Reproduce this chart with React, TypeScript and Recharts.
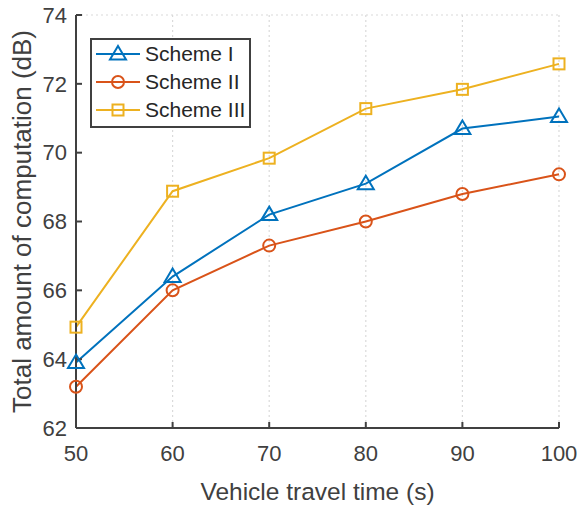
import { LineChart, Line, XAxis, YAxis, CartesianGrid } from "recharts";

const times = [50, 60, 70, 80, 90, 100];
const scheme1 = [63.9, 66.4, 68.2, 69.1, 70.7, 71.05];
const scheme2 = [63.2, 66.0, 67.3, 68.0, 68.8, 69.37];
const scheme3 = [64.93, 68.88, 69.84, 71.28, 71.84, 72.58];
const yTicks = [62, 64, 66, 68, 70, 72, 74];

const data = times.map((t, i) => ({ t, s1: scheme1[i], s2: scheme2[i], s3: scheme3[i] }));

const BLUE = "#0072BD";
const ORANGE = "#D95319";
const YELLOW = "#EDB120";
const AXIS = "#404040";
const FONT = "'Liberation Sans', Arial, sans-serif";

const Tri = ({ cx, cy, color }: any) => (
  <path d={`M${cx},${cy - 8} L${cx + 8},${cy + 5.5} L${cx - 8},${cy + 5.5} Z`} fill="none" stroke={color} strokeWidth={2} />
);
const Circ = ({ cx, cy, color }: any) => <circle cx={cx} cy={cy} r={6} fill="none" stroke={color} strokeWidth={2} />;
const Sq = ({ cx, cy, color }: any) => (
  <rect x={cx - 5.5} y={cy - 5.5} width={11} height={11} fill="none" stroke={color} strokeWidth={2} />
);

const legendItems = [
  { name: "Scheme I", color: BLUE, M: Tri },
  { name: "Scheme II", color: ORANGE, M: Circ },
  { name: "Scheme III", color: YELLOW, M: Sq },
];

const LegendBox = () => (
  <div
    style={{
      position: "absolute",
      left: 90,
      top: 38,
      border: `2px solid ${AXIS}`,
      background: "#fff",
      width: 157,
      height: 86,
      boxSizing: "content-box",
      fontFamily: FONT,
      fontSize: 21,
      color: "#262626",
    }}
  >
    {legendItems.map(({ name, color, M }) => (
      <div key={name} style={{ display: "flex", alignItems: "center", height: 28, whiteSpace: "nowrap" }}>
        <svg width={44} height={24} style={{ marginLeft: 4, flexShrink: 0 }}>
          <line x1={0} y1={12} x2={44} y2={12} stroke={color} strokeWidth={2} />
          <M cx={22} cy={12} color={color} />
        </svg>
        <span style={{ marginLeft: 5 }}>{name}</span>
      </div>
    ))}
  </div>
);

export default function App() {
  const tickStyle = { fill: AXIS, fontSize: 22, fontFamily: FONT };
  return (
    <div style={{ position: "absolute", left: 0, top: 0, width: 577, height: 506 }}>
      <LineChart width={577} height={506} data={data} margin={{ top: 15, right: 18, bottom: 0, left: 0 }}>
        <CartesianGrid stroke="#dadada" strokeDasharray="2 3" strokeWidth={1.2} />
        <XAxis
          xAxisId="b"
          dataKey="t"
          type="number"
          domain={[50, 100]}
          ticks={times}
          stroke={AXIS}
          strokeWidth={2}
          tickSize={-6}
          tickMargin={23}
          tick={tickStyle}
          label={{ value: "Vehicle travel time (s)", position: "insideBottom", offset: 6, fill: AXIS, fontSize: 24.5, fontFamily: FONT }}
          height={78}
        />
        <XAxis
          xAxisId="t"
          orientation="top"
          dataKey="t"
          type="number"
          domain={[50, 100]}
          ticks={times}
          stroke={AXIS}
          strokeWidth={2}
          tickSize={-6}
          tickFormatter={() => ""}
          height={0}
        />
        <YAxis
          yAxisId="l"
          type="number"
          domain={[62, 74]}
          ticks={yTicks}
          stroke={AXIS}
          strokeWidth={2}
          tickSize={-6}
          tickMargin={15}
          tick={tickStyle}
          width={76}
          label={{
            value: "Total amount of computation (dB)",
            angle: -90,
            position: "insideLeft",
            offset: 22,
            style: { textAnchor: "middle" },
            fill: AXIS,
            fontSize: 26,
            fontFamily: FONT,
          }}
        />
        <YAxis
          yAxisId="r"
          orientation="right"
          type="number"
          domain={[62, 74]}
          ticks={yTicks}
          stroke={AXIS}
          strokeWidth={2}
          tickSize={-6}
          tickFormatter={() => ""}
          width={0}
        />
        <Line
          xAxisId="b"
          yAxisId="l"
          dataKey="s1"
          stroke={BLUE}
          strokeWidth={2}
          dot={(p: any) => <Tri key={p.index} cx={p.cx} cy={p.cy} color={BLUE} />}
          isAnimationActive={false}
        />
        <Line
          xAxisId="b"
          yAxisId="l"
          dataKey="s2"
          stroke={ORANGE}
          strokeWidth={2}
          dot={(p: any) => <Circ key={p.index} cx={p.cx} cy={p.cy} color={ORANGE} />}
          isAnimationActive={false}
        />
        <Line
          xAxisId="b"
          yAxisId="l"
          dataKey="s3"
          stroke={YELLOW}
          strokeWidth={2}
          dot={(p: any) => <Sq key={p.index} cx={p.cx} cy={p.cy} color={YELLOW} />}
          isAnimationActive={false}
        />
      </LineChart>
      <LegendBox />
    </div>
  );
}
